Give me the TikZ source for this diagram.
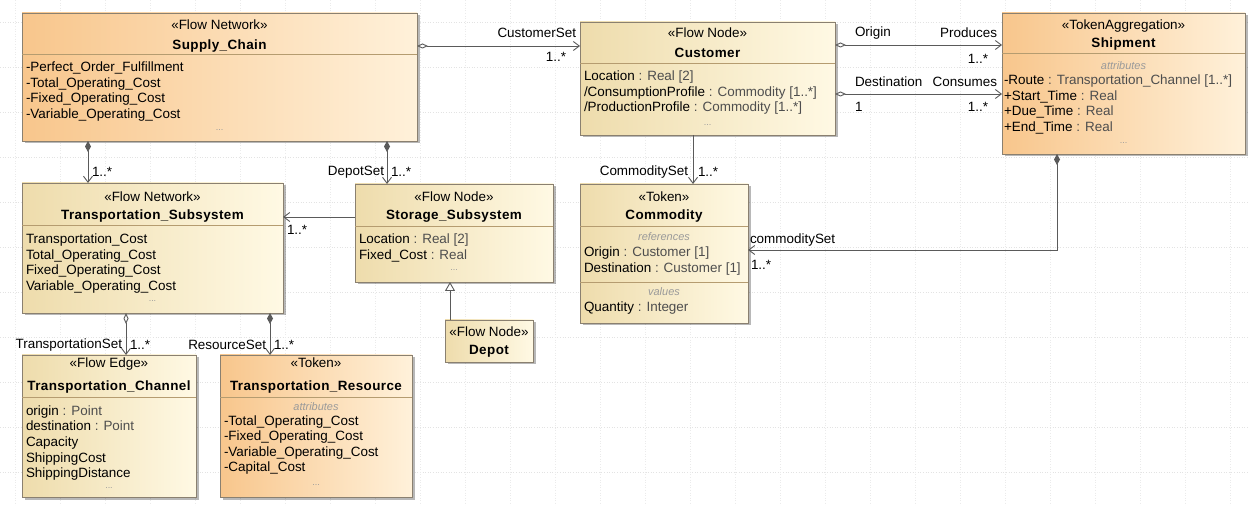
\documentclass[tikz,border=0pt]{standalone}
\usepackage{fontspec}
\setmainfont{Liberation Sans}
\newfontfamily\namefont[LetterSpace=3]{Liberation Sans}
\usetikzlibrary{arrows.meta,shadows}
\definecolor{orgA}{HTML}{F8C68C}
\definecolor{orgB}{HTML}{FFF1DA}
\definecolor{begA}{HTML}{EEDCAC}
\definecolor{begB}{HTML}{FFF9E4}
\definecolor{edgec}{HTML}{8A8070}
\definecolor{divc}{HTML}{B59C70}
\definecolor{linec}{HTML}{5A5A5A}
\definecolor{typec}{HTML}{4E4E4E}
\definecolor{metac}{HTML}{9A9A9A}
\definecolor{gridc}{HTML}{E3E3E3}
\definecolor{gridv}{HTML}{EBEBEB}
\newcommand\umlbox[6]{\node[#1, minimum width={(#5-#3)*1bp}, minimum height={(#6-#4)*1bp}] (#2) at (#3,#4) {};}
\newcommand\cmpt[5]{\foreach \t [count=\i] in {#5} {\node[attr] (#1-\i) at (#2,{#3+(\i-1)*#4}) {\t};}}
\begin{document}
\begin{tikzpicture}[x=1bp,y=-1bp,
  txt/.style={inner sep=0, outer sep=0, font=\fontsize{13.5}{15}\selectfont},
  stereo/.style={txt, anchor=base},
  cname/.style={txt, anchor=base, font=\namefont\bfseries\fontsize{13.5}{15}\selectfont},
  attr/.style={txt, anchor=base west},
  meta/.style={txt, anchor=base, font=\itshape\fontsize{11}{13}\selectfont, text=metac},
  dots/.style={txt, anchor=center, font=\fontsize{9}{10}\selectfont, text=metac},
  lbl/.style={txt},
  box/.style={draw=edgec, line width=0.9bp, inner sep=0, outer sep=0, anchor=north west,
    drop shadow={shadow xshift=2.5bp, shadow yshift=-2.5bp, fill=black, opacity=0.28}},
  orng/.style={box, left color=orgA, right color=orgB},
  beig/.style={box, left color=begA, right color=begB},
  divl/.style={draw=divc, line width=0.8bp},
  conn/.style={draw=linec, line width=0.9bp},
  nav/.style={conn, -{Straight Barb[length=6bp,width=9bp]}},
  comp/.style={conn, {Diamond[length=11bp,width=6bp,fill=linec]}-{Straight Barb[length=6bp,width=9bp]}},
  aggr/.style={conn, {Diamond[length=11bp,width=5bp,fill=white]}-{Straight Barb[length=6bp,width=9bp]}},
  gen/.style={conn, -{Triangle[length=9bp,width=10bp,fill=white]}}
]
\useasboundingbox (0,0) rectangle (1248,506);
\fill[white] (0,0) rectangle (1248,506);
% faint canvas grid
\foreach \yy in {22,67,...,472} \draw[gridc, dotted, line width=0.6bp] (0,\yy) -- (1248,\yy);
\foreach \xx in {15,60,...,1248} \draw[gridv, dotted, line width=0.6bp] (\xx,0) -- (\xx,506);

% ---------- boxes ----------
\umlbox{orng}{sc}{22}{13}{417}{141}
\umlbox{beig}{cu}{580}{22}{835}{135}
\umlbox{orng}{sh}{1002}{13}{1245}{154}
\umlbox{beig}{ts}{22}{183}{283}{313}
\umlbox{beig}{ss}{355}{184}{553}{282}
\umlbox{beig}{co}{580}{184}{748}{323}
\umlbox{beig}{de}{445}{320}{533}{362}
\umlbox{beig}{tc}{22}{355}{196}{497}
\umlbox{orng}{tr}{220}{355}{412}{497}

% dividers
\draw[divl] (22,54) -- (417,54);
\draw[divl] (580,63) -- (835,63);
\draw[divl] (1002,53) -- (1245,53);
\draw[divl] (22,225) -- (283,225);
\draw[divl] (355,226) -- (553,226);
\draw[divl] (580,226) -- (748,226);
\draw[divl] (580,282) -- (748,282);
\draw[divl] (22,397) -- (196,397);
\draw[divl] (220,397) -- (412,397);

% ---------- Supply_Chain ----------
\node[stereo] (sc-st) at (219.5,30) {«Flow Network»};
\node[cname] (sc-nm) at (219.5,50) {Supply\_Chain};
\cmpt{sc-a}{26}{72}{15.4}{{-Perfect\_Order\_Fulfillment},{-Total\_Operating\_Cost},{-Fixed\_Operating\_Cost},{-Variable\_Operating\_Cost}}
\node[dots] (sc-d) at (219.5,130) {...};

% ---------- Customer ----------
\node[stereo] (cu-st) at (707.5,38) {«Flow Node»};
\node[cname] (cu-nm) at (707.5,58) {Customer};
\cmpt{cu-a}{584}{81}{15.2}{{Location \textcolor{typec}{: Real [2]}},{/ConsumptionProfile \textcolor{typec}{: Commodity [1..*]}},{/ProductionProfile \textcolor{typec}{: Commodity [1..*]}}}
\node[dots] (cu-d) at (707.5,125) {...};

% ---------- Shipment ----------
\node[stereo] (sh-st) at (1123.5,30) {«TokenAggregation»};
\node[cname] (sh-nm) at (1123.5,48) {Shipment};
\node[meta] (sh-m) at (1123.5,70) {attributes};
\cmpt{sh-a}{1004}{85}{15.4}{{-Route \textcolor{typec}{: Transportation\_Channel [1..*]}},{+Start\_Time \textcolor{typec}{: Real}},{+Due\_Time \textcolor{typec}{: Real}},{+End\_Time \textcolor{typec}{: Real}}}
\node[dots] (sh-d) at (1123.5,143) {...};

% ---------- Transportation_Subsystem ----------
\node[stereo] (ts-st) at (152.5,202) {«Flow Network»};
\node[cname] (ts-nm) at (152.5,220) {Transportation\_Subsystem};
\cmpt{ts-a}{26}{244}{15.4}{{Transportation\_Cost},{Total\_Operating\_Cost},{Fixed\_Operating\_Cost},{Variable\_Operating\_Cost}}
\node[dots] (ts-d) at (152.5,301) {...};

% ---------- Storage_Subsystem ----------
\node[stereo] (ss-st) at (454,202) {«Flow Node»};
\node[cname] (ss-nm) at (454,220) {Storage\_Subsystem};
\cmpt{ss-a}{359}{244}{15.2}{{Location \textcolor{typec}{: Real [2]}},{Fixed\_Cost \textcolor{typec}{: Real}}}
\node[dots] (ss-d) at (454,270) {...};

% ---------- Commodity ----------
\node[stereo] (co-st) at (664,202) {«Token»};
\node[cname] (co-nm) at (664,220) {Commodity};
\node[meta] (co-m1) at (664,241) {references};
\cmpt{co-a}{584}{257}{16}{{Origin \textcolor{typec}{: Customer [1]}},{Destination \textcolor{typec}{: Customer [1]}}}
\node[meta] (co-m2) at (664,296) {values};
\node[attr] (co-q) at (584,312) {Quantity \textcolor{typec}{: Integer}};

% ---------- Depot ----------
\node[stereo] (de-st) at (489,337) {«Flow Node»};
\node[cname] (de-nm) at (489,355) {Depot};

% ---------- Transportation_Channel ----------
\node[stereo] (tc-st) at (109,368) {«Flow Edge»};
\node[cname] (tc-nm) at (109,390) {Transportation\_Channel};
\cmpt{tc-a}{26}{415}{15.7}{{origin \textcolor{typec}{: Point}},{destination \textcolor{typec}{: Point}},{Capacity},{ShippingCost},{ShippingDistance}}
\node[dots] (tc-d) at (109,488) {...};

% ---------- Transportation_Resource ----------
\node[stereo] (tr-st) at (316,368) {«Token»};
\node[cname] (tr-nm) at (316,390) {Transportation\_Resource};
\node[meta] (tr-m) at (316,410) {attributes};
\cmpt{tr-a}{224}{425}{15.6}{{-Total\_Operating\_Cost},{-Fixed\_Operating\_Cost},{-Variable\_Operating\_Cost},{-Capital\_Cost}}
\node[dots] (tr-d) at (316,485) {...};

% ---------- connectors ----------
\draw[comp] (88,0 |- sc.south) -- (88,0 |- ts.north);
\node[lbl, anchor=west] (l-sc-ts) at (92,172) {1..*};

\draw[comp] (387,0 |- sc.south) -- (387,0 |- ss.north);
\node[lbl, anchor=east] (l-dep) at (384,172) {DepotSet};
\node[lbl, anchor=west] (l-dep-m) at (391,172) {1..*};

\draw[aggr] (sc.east |- 0,46) -- (cu.west |- 0,46);
\node[lbl, anchor=east] (l-cus) at (576,33) {CustomerSet};
\node[lbl, anchor=east] (l-cus-m) at (566,57) {1..*};

\draw[nav] (693,0 |- cu.south) -- (693,0 |- co.north);
\node[lbl, anchor=east] (l-com) at (688,172) {CommoditySet};
\node[lbl, anchor=west] (l-com-m) at (698,172) {1..*};

\draw[aggr] (cu.east |- 0,45) -- (sh.west |- 0,45);
\node[lbl, anchor=west] (l-or) at (855,33) {Origin};
\node[lbl, anchor=east] (l-pr) at (997,33) {Produces};
\node[lbl, anchor=east] (l-pr-m) at (988,59) {1..*};

\draw[aggr] (cu.east |- 0,94) -- (sh.west |- 0,94);
\node[lbl, anchor=west] (l-de) at (855,82) {Destination};
\node[lbl, anchor=east] (l-cn) at (997,82) {Consumes};
\node[lbl, anchor=west] (l-de-m) at (855,107) {1};
\node[lbl, anchor=east] (l-cn-m) at (988,107) {1..*};

\draw[comp] (1057,0 |- sh.south) |- (co.east |- 0,250);
\node[lbl, anchor=west] (l-cs) at (750,240) {commoditySet};
\node[lbl, anchor=west] (l-cs-m) at (751,265) {1..*};

\draw[nav] (ss.west |- 0,217) -- (ts.east |- 0,217);
\node[lbl, anchor=west] (l-ss-ts) at (287,230) {1..*};

\draw[gen] (450,0 |- de.north) -- (450,0 |- ss.south);

\draw[aggr] (126,0 |- ts.south) -- (126,0 |- tc.north);
\node[lbl, anchor=east] (l-tcs) at (122,345) {TransportationSet};
\node[lbl, anchor=west] (l-tcs-m) at (130,345) {1..*};

\draw[comp] (270,0 |- ts.south) -- (270,0 |- tr.north);
\node[lbl, anchor=east] (l-rs) at (266,345) {ResourceSet};
\node[lbl, anchor=west] (l-rs-m) at (274,345) {1..*};
\end{tikzpicture}
\end{document}
